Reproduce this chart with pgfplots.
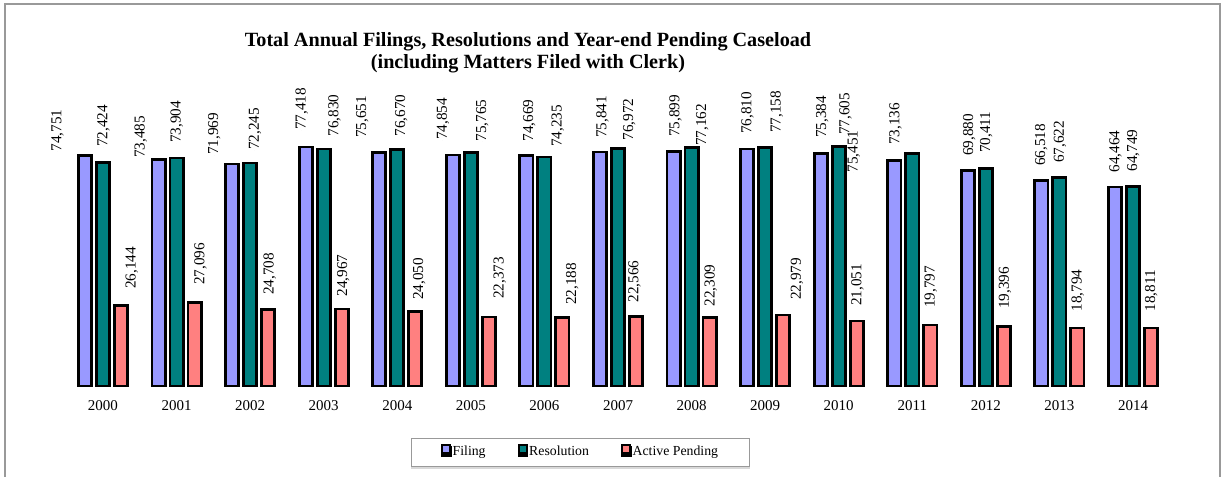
\documentclass[border=0pt]{standalone}
\usepackage{fontspec}
\setmainfont{Liberation Serif}
\usepackage{pgfplots}
\pgfplotsset{compat=1.18}
\usepackage{pgfplotstable}
\usetikzlibrary{shadows}

\definecolor{filing}{HTML}{9999FF}
\definecolor{resol}{HTML}{008080}
\definecolor{pending}{HTML}{FF8080}

% values, then where each value label sits (x index, y in data units)
\pgfplotstableread{
i filing resolution pending fx fy rx ry px py
0  74751 72424 26144 -0.618 75913 0.007 77339 0.390 31331
1  73485 73904 27096 0.514 73775 1.002 78635 1.325 32724
2  71969 72245 24708 1.511 74844 2.066 76464 2.266 29484
3  77418 76830 24967 2.701 82944 3.147 80773 3.266 28933
4  75651 76670 24050 3.523 80255 4.053 80773 4.298 27864
5  74854 75765 22373 4.621 79704 5.154 79153 5.392 28091
6  74669 74235 22188 5.793 79153 6.182 77339 6.378 26244
7  75841 76972 22566 6.789 80255 7.152 79477 7.224 26989
8  75899 77162 22309 7.782 80579 8.145 77760 8.262 25693
9  76810 77158 22979 8.760 81648 9.157 81875 9.433 27864
10 75384 77605 21051 9.776 80255 10.092 81324 10.256 25920
11 73136 75451 19797 10.772 78084 10.204 69109 11.252 25175
12 69880 70411 19396 11.774 74520 12.006 75395 12.261 24851
13 66518 67622 18794 12.753 71280 13.008 72155 13.250 24073
14 64464 64749 18811 13.762 69109 14.004 69433 14.248 24073
}\data

\pgfplotsset{
  lbl/.style={only marks, mark=*, mark size=0pt, mark options={draw=none,fill=none},
    forget plot, point meta=explicit,
    nodes near coords={\pgfmathprintnumber[fixed,precision=0,1000 sep={,},assume math mode=true]{\pgfplotspointmeta}},
    every node near coord/.style={rotate=90, anchor=west, inner sep=0pt,
      font=\fontsize{7.6bp}{9bp}\selectfont}},
  bars/.style={ybar, bar width=6.6bp, draw=black, line width=1.4bp}
}

\begin{document}
\begin{tikzpicture}
\useasboundingbox (0,0) rectangle (612.5bp,-238.5bp);
\draw[gray!80, line width=0.7bp] (2.5bp,-245bp) -- (2.5bp,-2bp) -- (610bp,-2bp) -- (610bp,-245bp);

\node[anchor=base, font=\bfseries\fontsize{10.1bp}{11bp}\selectfont] at (264bp,-23bp)
  {Total Annual Filings, Resolutions and Year-end Pending Caseload};
\node[anchor=base, font=\bfseries\fontsize{10.1bp}{11bp}\selectfont] at (264bp,-34bp)
  {(including Matters Filed with Clerk)};

\begin{axis}[
  at={(33.1bp,-193bp)}, anchor=south west,
  scale only axis, width=551.8bp, height=154.3bp,
  xmin=-0.5, xmax=14.5, ymin=0, ymax=100000,
  axis line style={draw=none},
  ytick=\empty,
  xtick={0,1,2,3,4,5,6,7,8,9,10,11,12,13,14},
  xticklabels={2000,2001,2002,2003,2004,2005,2006,2007,2008,2009,2010,2011,2012,2013,2014},
  major tick length=0pt,
  xticklabel style={anchor=base, yshift=-12.2bp, font=\fontsize{7.5bp}{9bp}\selectfont},
  clip=false,
  legend columns=3,
  legend style={at={(0.466,-0.2155)}, anchor=center, draw=gray!80, line width=0.5bp,
    font=\fontsize{6.9bp}{8bp}\selectfont,
    nodes={inner xsep=0.7bp, inner ysep=1.5bp},
    /tikz/every even column/.append style={column sep=15.5bp},
    inner xsep=15bp, inner ysep=2.5bp,
    drop shadow={shadow xshift=0bp, shadow yshift=-0.9bp, fill=gray!30, opacity=1}},
  legend image code/.code={\draw[#1, line width=0.9bp] (0bp,-0.4bp) rectangle (4bp,3.6bp);},
]
\addplot[bars, bar shift=-9bp, fill=filing] table[x=i, y=filing] {\data};
\addplot[bars, bar shift=0bp, fill=resol] table[x=i, y=resolution] {\data};
\addplot[bars, bar shift=9bp, fill=pending] table[x=i, y=pending] {\data};
\legend{Filing, Resolution, Active Pending}

\addplot[lbl] table[x=fx, y=fy, meta=filing] {\data};
\addplot[lbl] table[x=rx, y=ry, meta=resolution] {\data};
\addplot[lbl] table[x=px, y=py, meta=pending] {\data};
\end{axis}
\end{tikzpicture}
\end{document}
